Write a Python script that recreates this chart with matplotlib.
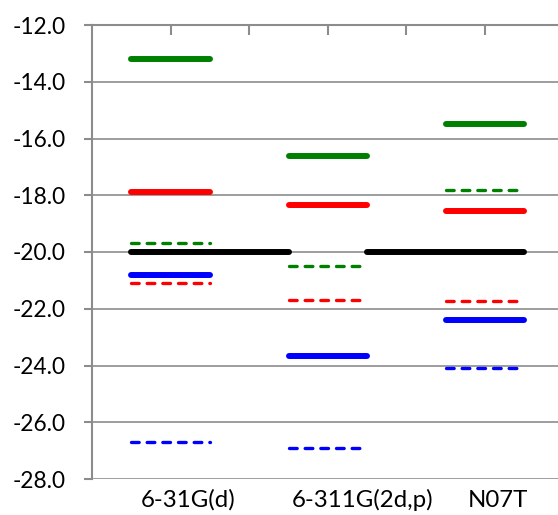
import matplotlib
matplotlib.use("Agg")
import matplotlib.pyplot as plt
import numpy as np

plt.rcParams['font.family'] = ['Lato', 'DejaVu Sans']

# Basis sets (each occupies a pair of category slots)
basis_sets = ["6-31G(d)", "6-311G(2d,p)", "N07T"]

# Energy levels (eV) per basis set
green_solid = [-13.2, -16.6, -15.5]
red_solid = [-17.9, -18.35, -18.55]
blue_solid = [-20.8, -23.65, -22.4]
green_dashed = [-19.7, -20.5, -17.8]
red_dashed = [-21.1, -21.7, -21.73]
blue_dashed = [-26.7, -26.9, -24.1]
reference_level = -20.0

yticks = np.arange(-28.0, -11.0, 2.0)

W, H = 558, 515
fig = plt.figure(figsize=(W / 100, H / 100), dpi=100)
ax_left, ax_top, ax_bottom, ax_right = 92, 25, 479, 563.6
ax = fig.add_axes([ax_left / W, 1 - ax_bottom / H,
                   (ax_right - ax_left) / W, (ax_bottom - ax_top) / H])

ax.set_xlim(-0.5, 5.5)
ax.set_ylim(-28, -12)

grid_c = "#8c8c8c"
for y in yticks:
    ax.axhline(y, color=grid_c, lw=1.2, zorder=1)

solid_kw = dict(lw=4.3, solid_capstyle="round", zorder=3)
dash_kw = dict(lw=2.4, linestyle=(0, (2.3, 2.4)), dash_capstyle="round", zorder=4)

# Reference level across the chart
ax.plot([0, 2], [reference_level] * 2, color="black", **solid_kw)
ax.plot([3, 5], [reference_level] * 2, color="black", **solid_kw)

for i in range(len(basis_sets)):
    xs = [2 * i, 2 * i + 1]
    ax.plot(xs, [green_solid[i]] * 2, color="#008000", **solid_kw)
    ax.plot(xs, [red_solid[i]] * 2, color="#ff0000", **solid_kw)
    ax.plot(xs, [blue_solid[i]] * 2, color="#0000ff", **solid_kw)
    ax.plot(xs, [green_dashed[i]] * 2, color="#008000", **dash_kw)
    ax.plot(xs, [red_dashed[i]] * 2, color="#ff0000", **dash_kw)
    ax.plot(xs, [blue_dashed[i]] * 2, color="#0000ff", **dash_kw)

# Spines
for s in ["right", "bottom"]:
    ax.spines[s].set_visible(False)
ax.spines["left"].set_color(grid_c)
ax.spines["left"].set_linewidth(1.5)
ax.spines["top"].set_color(grid_c)
ax.spines["top"].set_linewidth(1.5)

ax.set_yticks(yticks)
ax.set_yticklabels([f"{v:.1f}" for v in yticks], fontsize=16.3)
ax.tick_params(axis="y", length=6, width=1.5, color=grid_c, pad=13)

# Category boundary ticks on the top axis
ax.xaxis.set_ticks_position("top")
ax.set_xticks(np.arange(0.5, 5.0, 1.0))
ax.set_xticklabels([])
ax.tick_params(axis="x", direction="in", length=7, width=1.5, color=grid_c)

# Basis set labels beneath the plot
label_x = [0.728, 2.94, 4.67]
for x, name in zip(label_x, basis_sets):
    ax.text(x, -28.75, name, ha="center", va="center", fontsize=17.3,
            transform=ax.transData, clip_on=False)

fig.savefig("out.png", dpi=100)
